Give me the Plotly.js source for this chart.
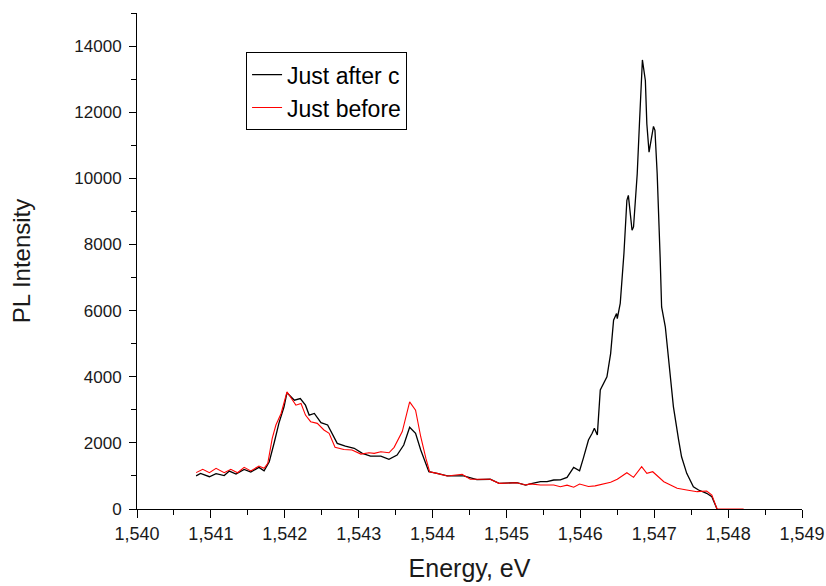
<!DOCTYPE html>
<html>
<head>
<meta charset="utf-8">
<script src="https://cdn.plot.ly/plotly-3.0.1.min.js"></script>
<style>html,body{margin:0;padding:0;background:#fff;}#chart{width:826px;height:586px;}</style>
</head>
<body>
<div id="chart"></div>
<script>
// Just after c (black)
const afterE = [1.54080,1.54086,1.54098,1.54107,1.54118,1.54125,1.54134,1.54145,1.54154,1.54165,1.54172,1.54179,1.54186,1.54192,1.54199,1.54203,1.54213,1.54221,1.54228,1.54233,1.54240,1.54249,1.54258,1.54264,1.54271,1.54282,1.54294,1.54305,1.54316,1.54330,1.54341,1.54352,1.54361,1.54369,1.54377,1.54384,1.54391,1.54395,1.54406,1.54420,1.54442,1.54460,1.54478,1.54490,1.54514,1.54526,1.54532,1.54546,1.54555,1.54564,1.54573,1.54582,1.54591,1.54599,1.54604,1.54611,1.54616,1.54619,1.54623,1.54627,1.54636,1.54641,1.54645,1.54649,1.54650,1.54654,1.54659,1.54663,1.54665,1.54670,1.54672,1.54677,1.54680,1.54684,1.54688,1.54690,1.54693,1.54696,1.54699,1.54701,1.54704,1.54708,1.54710,1.54715,1.54719,1.54726,1.54733,1.54737,1.54744,1.54749,1.54753,1.54760,1.54771,1.54778,1.54785];
const afterI = [1000,1078,976,1070,1010,1147,1057,1199,1117,1260,1157,1430,2033,2590,3092,3516,3290,3340,3140,2840,2890,2610,2540,2290,1985,1900,1835,1683,1600,1600,1500,1630,1935,2470,2290,1783,1330,1127,1078,1000,1000,890,900,776,795,725,760,826,826,877,880,957,1260,1157,1530,2088,2290,2440,2240,3600,4000,4700,5710,5910,5760,6215,7725,9335,9485,8430,8530,10140,11650,13580,12960,11650,10790,11150,11570,11450,10140,7620,6110,5510,4600,3090,2088,1580,1078,826,675,575,474,372,0];

// Just before (red)
const beforeE = [1.54080,1.54089,1.54098,1.54107,1.54118,1.54127,1.54136,1.54145,1.54154,1.54165,1.54172,1.54177,1.54183,1.54188,1.54195,1.54203,1.54215,1.54222,1.54228,1.54235,1.54244,1.54253,1.54260,1.54268,1.54280,1.54291,1.54303,1.54314,1.54321,1.54330,1.54341,1.54348,1.54359,1.54369,1.54377,1.54384,1.54391,1.54396,1.54406,1.54420,1.54440,1.54451,1.54478,1.54490,1.54514,1.54526,1.54532,1.54546,1.54564,1.54573,1.54582,1.54591,1.54599,1.54611,1.54620,1.54641,1.54650,1.54663,1.54672,1.54683,1.54690,1.54698,1.54713,1.54731,1.54744,1.54758,1.54771,1.54778,1.54785,1.54821];
const beforeI = [1100,1199,1097,1230,1097,1199,1097,1260,1150,1300,1230,1380,2135,2540,2890,3545,3140,3190,2840,2640,2590,2390,2290,1865,1800,1783,1660,1700,1683,1733,1700,1865,2340,3240,2990,2185,1530,1127,1078,1000,1050,900,900,776,795,725,760,725,725,675,720,660,755,680,700,806,900,1097,957,1280,1078,1127,826,625,575,524,545,423,0,0];

const xTicks = [1.540,1.541,1.542,1.543,1.544,1.545,1.546,1.547,1.548,1.549];
const yTicks = [0,2000,4000,6000,8000,10000,12000,14000];

const FONT = 'Liberation Sans, Arial, sans-serif';

const traces = [
  {x: afterE, y: afterI, type: 'scatter', mode: 'lines', name: 'Just after c',
   line: {color: '#000000', width: 1.3}},
  {x: beforeE, y: beforeI, type: 'scatter', mode: 'lines', name: 'Just before',
   line: {color: '#ff0000', width: 1.1}}
];

const layout = {
  width: 826, height: 586,
  margin: {l: 137, r: 24, t: 13, b: 77, pad: 0},
  paper_bgcolor: '#ffffff', plot_bgcolor: '#ffffff',
  separators: ',.',
  font: {family: FONT, color: '#1a1a1a', size: 18},
  showlegend: true,
  legend: {x: 0.164, y: 0.921, xanchor: 'left', yanchor: 'top',
           bordercolor: '#000000', borderwidth: 1, bgcolor: '#ffffff',
           font: {family: FONT, size: 23, color: '#000000'},
           tracegroupgap: 0, itemwidth: 30},
  xaxis: {
    range: [1.540, 1.549], tickvals: xTicks, tickformat: '.3f',
    showline: true, linecolor: '#000', linewidth: 1, mirror: false,
    ticks: 'outside', ticklen: 8, tickcolor: '#000', tickwidth: 1,
    minor: {dtick: 0.0005, tick0: 1.540, ticks: 'outside', ticklen: 5, tickcolor: '#000', tickwidth: 1, showgrid: false},
    showgrid: false, zeroline: false,
    tickfont: {family: FONT, size: 18, color: '#1a1a1a'},
    title: {text: 'Energy, eV', font: {family: FONT, size: 25, color: '#1a1a1a'}, standoff: 16}
  },
  yaxis: {
    range: [0, 15000], tickvals: yTicks, tickformat: '.0f',
    showline: true, linecolor: '#000', linewidth: 1, mirror: false,
    ticks: 'outside', ticklen: 7, tickcolor: '#000', tickwidth: 1,
    minor: {dtick: 1000, tick0: 0, ticks: 'outside', ticklen: 5, tickcolor: '#000', tickwidth: 1, showgrid: false},
    showgrid: false, zeroline: false, ticklabelstandoff: 4,
    tickfont: {family: FONT, size: 17, color: '#1a1a1a'},
    title: {text: 'PL Intensity', font: {family: FONT, size: 24, color: '#1a1a1a'}, standoff: 36}
  }
};

Plotly.newPlot('chart', traces, layout, {staticPlot: true, displayModeBar: false});
</script>
</body>
</html>
